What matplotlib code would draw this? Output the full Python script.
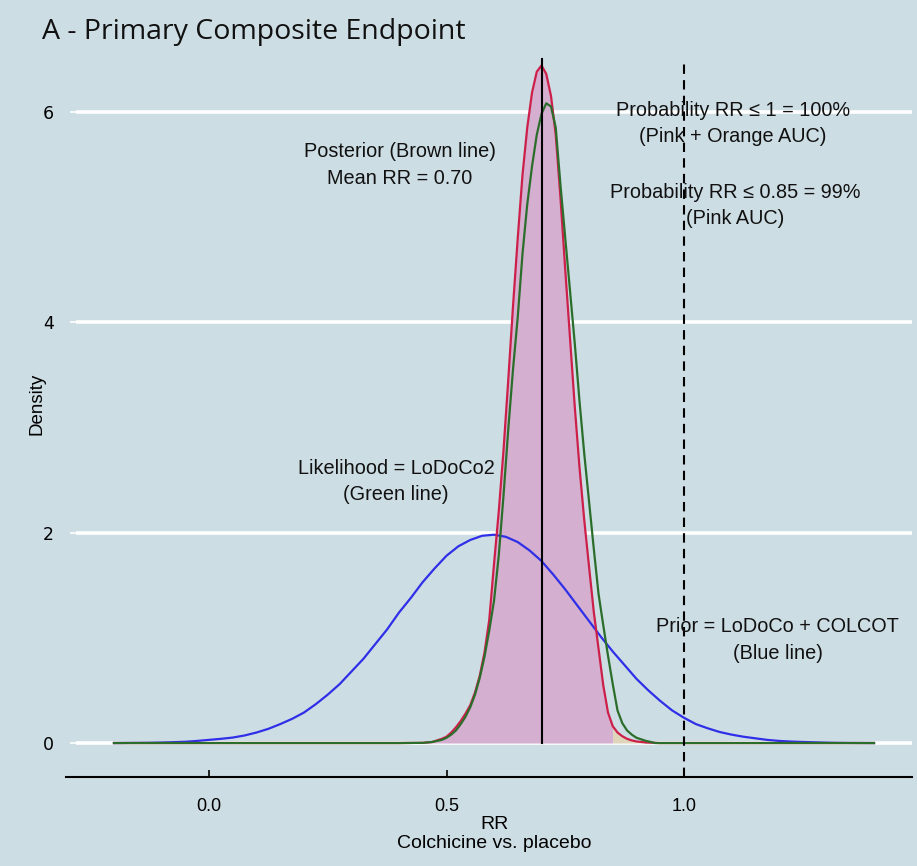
import matplotlib
matplotlib.use("Agg")
import matplotlib.pyplot as plt
from matplotlib import font_manager

# ---------------- data ----------------
prior_x = [-0.200, -0.175, -0.150, -0.125, -0.100, -0.075, -0.050, -0.025,
           0.000, 0.025, 0.050, 0.075, 0.100, 0.125, 0.150, 0.175, 0.200,
           0.225, 0.250, 0.275, 0.300, 0.325, 0.350, 0.375, 0.400, 0.425,
           0.450, 0.475, 0.500, 0.525, 0.550, 0.575, 0.600, 0.625, 0.650,
           0.675, 0.700, 0.725, 0.750, 0.775, 0.800, 0.825, 0.850, 0.875,
           0.900, 0.925, 0.950, 0.975, 1.000, 1.025, 1.050, 1.075, 1.100,
           1.125, 1.150, 1.175, 1.200, 1.225, 1.250, 1.275, 1.300, 1.325,
           1.350, 1.375, 1.400]
prior_y = [0.000, 0.001, 0.002, 0.003, 0.005, 0.008, 0.012, 0.020,
           0.030, 0.040, 0.052, 0.072, 0.100, 0.135, 0.180, 0.230, 0.290,
           0.370, 0.460, 0.560, 0.680, 0.800, 0.940, 1.080, 1.240, 1.380,
           1.530, 1.660, 1.780, 1.870, 1.930, 1.970, 1.980, 1.960, 1.910,
           1.830, 1.730, 1.600, 1.460, 1.310, 1.160, 1.010, 0.870, 0.740,
           0.610, 0.500, 0.400, 0.310, 0.240, 0.180, 0.140, 0.105, 0.080,
           0.060, 0.045, 0.030, 0.020, 0.014, 0.010, 0.007, 0.004, 0.002,
           0.001, 0.0005, 0.000]

post_x = [-0.20, 0.40, 0.45, 0.47, 0.49, 0.50, 0.51, 0.52, 0.53, 0.54, 0.55,
          0.56, 0.57, 0.58, 0.59, 0.60, 0.61, 0.62, 0.63, 0.64, 0.65, 0.66,
          0.67, 0.68, 0.69, 0.70, 0.71, 0.72, 0.73, 0.74, 0.75, 0.76, 0.77,
          0.78, 0.79, 0.80, 0.81, 0.82, 0.83, 0.84, 0.85, 0.86, 0.87, 0.88,
          0.89, 0.90, 0.92, 0.95, 1.00, 1.40]
post_y = [0.00, 0.00, 0.002, 0.01, 0.04, 0.06, 0.10, 0.15, 0.21, 0.28, 0.36,
          0.48, 0.64, 0.86, 1.17, 1.70, 2.20, 2.78, 3.45, 4.15, 4.80, 5.40,
          5.85, 6.18, 6.38, 6.44, 6.36, 6.15, 5.78, 5.18, 4.50, 3.85, 3.20,
          2.62, 2.12, 1.68, 1.25, 0.90, 0.55, 0.29, 0.16, 0.10, 0.065, 0.04,
          0.025, 0.015, 0.005, 0.00, 0.00, 0.00]

lik_x = [-0.20, 0.40, 0.45, 0.47, 0.49, 0.50, 0.51, 0.52, 0.53, 0.54, 0.55,
         0.56, 0.57, 0.58, 0.59, 0.60, 0.61, 0.62, 0.63, 0.64, 0.65, 0.66,
         0.67, 0.68, 0.69, 0.70, 0.71, 0.72, 0.73, 0.74, 0.75, 0.76, 0.77,
         0.78, 0.79, 0.80, 0.81, 0.82, 0.83, 0.84, 0.85, 0.86, 0.87, 0.88,
         0.89, 0.90, 0.92, 0.94, 1.00, 1.40]
lik_y = [0.00, 0.00, 0.002, 0.01, 0.03, 0.05, 0.08, 0.12, 0.18, 0.25, 0.34,
         0.46, 0.62, 0.82, 1.07, 1.35, 1.78, 2.35, 2.98, 3.55, 4.05, 4.65,
         5.12, 5.48, 5.78, 5.98, 6.08, 6.05, 5.85, 5.30, 4.80, 4.30, 3.80,
         3.25, 2.75, 2.30, 1.85, 1.42, 1.12, 0.83, 0.56, 0.31, 0.19, 0.12,
         0.08, 0.05, 0.02, 0.00, 0.00, 0.00]

mean_rr = 0.70
threshold_main = 1.0
threshold_pink = 0.85
x_ticks = [0.0, 0.5, 1.0]
x_tick_labels = ["0.0", "0.5", "1.0"]
y_ticks = [0, 2, 4, 6]
y_tick_labels = ["0", "2", "4", "6"]

title = "A - Primary Composite Endpoint"
ann_posterior = "Posterior (Brown line)\nMean RR = 0.70"
ann_prob1 = "Probability RR \u2264 1 = 100%\n(Pink + Orange AUC)"
ann_prob085 = "Probability RR \u2264 0.85 = 99%\n(Pink AUC)"
ann_lik = "Likelihood = LoDoCo2\n(Green line)"
ann_prior = "Prior = LoDoCo + COLCOT\n(Blue line)"

# ---------------- style ----------------
names = {f.name for f in font_manager.fontManager.ttflist}
narrow = "Liberation Sans Narrow" if "Liberation Sans Narrow" in names else "Liberation Sans"
bg = "#CDDDE4"
pink = "#D5AFCF"
tan = "#DED5BA"
red = "#CC1F4A"
green = "#2B6E2B"
blue = "#2F2FE8"

W, H = 917, 866
fig = plt.figure(figsize=(W / 100, H / 100), dpi=100, facecolor=bg)
left_px, right_px, top_px, bot_px = 76, 912, 31.8, 776.7
ax = fig.add_axes([left_px / W, 1 - bot_px / H, (right_px - left_px) / W, (bot_px - top_px) / H])
ax.set_facecolor(bg)
ax.set_xlim(-0.28, 1.48)
ax.set_ylim(-0.32, 6.76)

for s in ["top", "right", "left", "bottom"]:
    ax.spines[s].set_visible(False)
ax.plot([-0.012, 1.0], [0, 0], transform=ax.transAxes, clip_on=False, color="black", lw=1.5)

for yv in y_ticks:
    ax.axhline(yv, color="white", lw=2.6, zorder=1)

# fills
px_pink = [x for x in post_x if x <= threshold_pink]
py_pink = [y for x, y in zip(post_x, post_y) if x <= threshold_pink]
px_tan = [x for x in post_x if threshold_pink <= x <= threshold_main]
py_tan = [y for x, y in zip(post_x, post_y) if threshold_pink <= x <= threshold_main]
ax.fill_between(px_pink, 0, py_pink, color=pink, lw=0, zorder=2)
ax.fill_between(px_tan, 0, py_tan, color=tan, lw=0, zorder=2)

ax.plot(prior_x, prior_y, color=blue, lw=1.6, zorder=3)
ax.plot(post_x, post_y, color=red, lw=1.6, zorder=4)
ax.plot(lik_x, lik_y, color=green, lw=1.6, zorder=5)

ax.plot([mean_rr, mean_rr], [0, 6.5], color="black", lw=1.5, zorder=6)
ax.plot([threshold_main, threshold_main], [-0.32, 6.48], color="black", lw=1.5,
        ls=(0, (4.5, 3)), zorder=6)

ax.set_xticks(x_ticks)
ax.set_xticklabels(x_tick_labels, family=narrow, fontsize=13)
ax.tick_params(axis="x", direction="in", length=5, width=1.2, color="black", pad=15)
ax.set_yticks(y_ticks)
ax.set_yticklabels(y_tick_labels, family="DejaVu Sans", fontsize=12.5)
ax.tick_params(axis="y", direction="out", length=4, width=1.2, color="white", pad=12)

ax.set_xlabel("RR\nColchicine vs. placebo", family=narrow, fontsize=14, linespacing=1.15, labelpad=1)
ax.set_ylabel("Density", family=narrow, fontsize=13.5)
ax.yaxis.set_label_coords(-0.037, 0.5)

afont = dict(family="Liberation Sans", fontsize=14.3, ha="center", va="center",
             linespacing=1.5, color="#111111", zorder=7)
ax.text(0.402, 5.494, ann_posterior, **afont)
ax.text(1.103, 5.889, ann_prob1, **afont)
ax.text(1.107, 5.109, ann_prob085, **afont)
ax.text(0.394, 2.486, ann_lik, **afont)
ax.text(1.197, 0.979, ann_prior, **afont)

fig.text(42 / W, 1 - 32 / H, title, family="Open Sans", fontsize=20.5, ha="left", va="center",
         color="#111111")

fig.savefig("out.png", dpi=100, facecolor=bg)
